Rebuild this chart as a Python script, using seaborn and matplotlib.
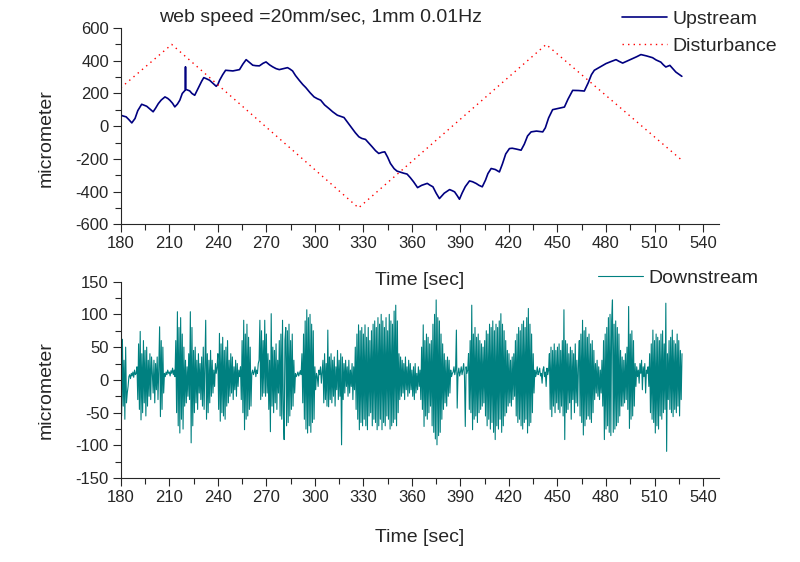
import numpy as np
import pandas as pd
import matplotlib
matplotlib.use('Agg')
import matplotlib.pyplot as plt
from matplotlib.ticker import MultipleLocator
import seaborn as sns

# upstream sensor (time sec, micrometer)
up_t = [180, 181.5, 183.3, 185, 186.8, 188.8, 190.5, 192.9, 194.5, 196, 198, 200, 201.5, 203.2,
        205, 207.3, 209, 210.3, 212, 213.4, 215, 216.5, 218, 219.8, 220, 220.2, 222.6, 224,
        225.7, 227, 228.8, 230, 231.3, 233, 234.9, 237, 239, 240, 241.1, 243, 244.8, 247,
        249.3, 251.5, 253.4, 255.5, 257.5, 259.5, 261.6, 263.5, 265.7, 268, 269.8, 272, 273.9,
        276, 278, 280.5, 283.1, 284.5, 286.2, 288, 290.3, 292.5, 294.4, 297, 299.5, 301.5,
        303.6, 306, 308.7, 311, 313.9, 316, 318, 320.5, 323.1, 325, 327.2, 329, 331.3, 333.5,
        335.4, 337.5, 339.5, 341.5, 343.2, 345, 346.7, 349, 350.8, 352.4, 355, 357, 359, 361,
        363.5, 366, 369.5, 371, 373, 375, 377, 380, 383.3, 385, 386.4, 388, 389.4, 391, 393,
        395.6, 397.5, 399.8, 401.5, 403.5, 405.5, 407, 409, 411.5, 414.1, 416, 418, 420.3,
        422, 424.5, 427.5, 429.5, 431.5, 433.7, 437, 440.9, 442.5, 444.5, 447, 451, 454.3,
        456.5, 459.4, 463, 466.6, 469, 471, 472.8, 476, 480, 483, 486.2, 488, 490.3, 493,
        496.4, 499, 501.6, 505, 508.8, 511, 513.9, 515.5, 517, 519.5, 521.5, 523.2, 525, 526.9]
up_v = [67, 62, 57, 40, 20, 47, 95, 134, 128, 122, 105, 88, 110, 138,
        160, 179, 170, 159, 140, 118, 135, 159, 200, 220, 363, 225, 216, 200,
        189, 215, 250, 275, 297, 290, 281, 262, 244, 255, 281, 315, 342, 340,
        338, 342, 346, 380, 407, 390, 373, 370, 369, 385, 393, 375, 363,
        352, 346, 352, 358, 350, 338, 310, 281, 255, 236, 205, 179, 168,
        159, 130, 108, 88, 67, 60, 53, 20, -14, -40, -65, -75, -81, -105,
        -126, -150, -167, -160, -157, -190, -228, -260, -275, -280, -288, -293, -315, -340,
        -376, -362, -350, -360, -371, -410, -443, -410, -388, -395, -402, -425, -447, -410, -370,
        -335, -340, -351, -362, -371, -330, -290, -259, -265, -280, -230, -170, -137,
        -135, -140, -147, -110, -60, -35, -30, -35, -10, 50, 101, 110, 117,
        165, 219, 218, 215, 265, 315, 342, 360, 383, 395, 407, 397, 386, 398,
        413, 425, 438, 430, 419, 405, 392, 375, 362, 372, 350, 331, 318, 305]

# disturbance triangle corners
dist_t = [180, 211.5, 327, 443, 526.5]
dist_v = [235, 500, -500, 500, -205]

# downstream sensor, one value every 0.5 s starting at 180 s
down_v = [
    45, -55, 62, -40, 30, -60, 50, -35, -20, -10, 5, 8, 2, 10, 6, 12, 4, 15, 8, 10,
    20, -30, 55, -45, 74, -61, 40, -50, 60, -35, 45, -55, 50, -40, 30, -25, 40, -30, 35, 10,
    -20, 30, -35, 25, -15, 35, -30, 20, 81, -56, 60, -45, 50, -20, 10, 5, 12, 8, 15, 10,
    12, 6, 14, 10, 18, 8, 15, 5, 60, -50, 104, -70, 80, -81, 95, -60, 70, -75, 50, -40,
    30, -35, 20, -25, 40, -30, 104, -96, 80, -70, 45, -50, 50, -35, 30, -45, 40, -20, 25, -30,
    35, -40, 50, -45, 20, 91, -60, 40, -50, 30, -35, 45, -25, 30, -20, 15, -10, 25, 10, 20,
    40, -45, 71, -63, 55, -50, 65, -55, 45, -60, 50, -40, 60, -35, 30, -25, 40, -20, 35, -30,
    20, -15, 30, -25, 25, -10, 15, 5, 20, -30, 60, -50, 91, -76, 70, -60, 85, -55, 65, -45,
    50, -40, 10, 15, 8, 12, 20, 5, 15, 10, 25, 30, 91, -30, 75, -25, 60, -20, 91, -25,
    70, -20, 40, -45, 30, -79, 101, -40, 50, -50, 45, -35, 55, -45, 30, -20, 60, -55, 70, -60,
    91, -50, -91, 60, 80, -70, 75, -65, 85, -55, 60, -45, 70, -40, 30, -20, 10, 5, 8, 12,
    6, 10, 14, 8, 40, -35, 70, -60, 90, -75, 107, -81, 95, -70, 100, -80, 85, -65, 75, -60,
    20, -15, 10, 5, -10, 15, 8, 20, -5, 12, 30, -35, 40, -30, 25, -40, 76, -41, 35, -30,
    40, -35, 30, -25, 35, -40, 20, -15, 45, -30, 30, -25, 40, -99, 35, -30, 25, -20, 30, -10,
    20, -25, 30, -20, 15, -10, 25, -30, 20, -15, 50, -45, 70, -60, 84, -76, 75, -65, 80, -70,
    70, -60, 84, -70, 65, -76, 80, -55, 60, -50, 75, -70, 85, -60, 90, -65, 80, -76, 95, -70,
    85, -60, 100, -76, 90, -65, 80, -70, 95, -55, 75, -60, 100, -75, 90, -70, 85, -65, 105, -60,
    114, -70, 90, -50, 40, -30, 35, -25, 30, -20, 25, -30, 35, -15, 20, -25, 30, -20, 25, -15,
    15, -25, 20, -30, 25, -20, 10, -15, 20, -10, 15, -30, 50, -45, 84, -71, 60, -55, 70, -60,
    65, -50, 55, -40, 60, -70, 85, -80, 100, -90, 122, -99, 95, -85, 90, -80, 70, -60, 55, -45,
    40, -35, 30, -40, 35, -25, 30, -20, 15, 5, 10, 12, 20, 8, 15, 76, -43, 10, 18, 6,
    12, 20, 8, 15, 25, 5, -71, 20, 10, 15, 40, -45, 60, -50, 114, -76, 70, -60, 80, -55,
    65, -65, 70, -50, 60, -45, 55, -40, 50, -35, 60, -55, 75, -70, 70, -60, 85, -75, 80, -65,
    90, -80, 75, -91, 85, -70, 80, -75, 90, -60, 101, -80, 85, -70, 75, -55, 60, -50, 45, -40,
    40, -35, 30, -40, 35, -30, 40, -25, 60, -55, 70, -65, 80, -60, 75, -70, 85, -75, 90, -65,
    80, -60, 95, -81, 109, -70, 85, -65, 70, -50, 40, -20, 15, 5, 10, 20, 8, 12, 18, 6,
    10, -5, 15, 20, 5, 12, -10, 18, 8, 15, 40, -45, 50, -56, 45, -40, 55, -50, 45, -35,
    50, -45, 55, -50, 45, -40, 60, -55, 107, -91, 60, -50, 55, -45, 40, -35, 50, -60, 45, -30,
    40, -50, 55, -35, 30, -40, 25, 60, -55, 70, -65, 91, -84, 75, -70, 80, -60, 65, -55, 70,
    -60, 55, -65, 60, -50, 45, -30, 25, -20, 30, -25, 20, -30, 15, -20, 30, -40, 60, -91, 70,
    -75, 80, -70, 95, -80, 100, -85, 90, 122, -80, 85, -75, 90, -70, 80, -65, 70, -55, 45, -40,
    35, -40, 30, -35, 40, -30, 50, -45, 112, -74, 70, -60, 75, -55, 60, -40, 25, -10, 20, 5,
    15, -5, 25, 10, 30, -15, 20, 5, 25, -20, 15, 10, 20, -10, 40, -50, 55, -60, 76, -65,
    60, -81, 70, -70, 65, -75, 60, -55, 70, -60, 75, -50, 55, -45, 117, -109, 40, -30, 60, -45,
    65, -50, 76, -56, 60, -45, 55, -50, 70, -40, 60, -55, 45, -30, 40,
]
down_t = 180 + 0.5 * np.arange(len(down_v))

sns.set_style('ticks')
plt.rcParams['font.family'] = ['Liberation Sans', 'DejaVu Sans']
plt.rcParams['axes.linewidth'] = 0.8
plt.rcParams['axes.unicode_minus'] = False

fig = plt.figure(figsize=(8, 5.62), dpi=100)
ax1 = fig.add_axes([0.151, 0.601, 0.748, 0.349])
ax2 = fig.add_axes([0.151, 0.149, 0.748, 0.35])
ax2.set_facecolor('none')

sns.lineplot(x=up_t, y=up_v, ax=ax1, color='#000080', linewidth=1.2,
             estimator=None, sort=False, label='Upstream')
sns.lineplot(x=dist_t, y=dist_v, ax=ax1, color='red', linewidth=1.0,
             linestyle=(0, (1, 3)), estimator=None, sort=False, label='Disturbance')
sns.lineplot(x=down_t, y=down_v, ax=ax2, color='#008080', linewidth=0.8,
             estimator=None, sort=False, label='Downstream')

for ax, lim, maj, mn, ly in [(ax1, 600, 200, 100, 0.44), (ax2, 150, 50, 25, 0.45)]:
    ax.set_xlim(180, 550)
    ax.set_ylim(-lim, lim)
    ax.xaxis.set_major_locator(MultipleLocator(30))
    ax.xaxis.set_minor_locator(MultipleLocator(15))
    ax.yaxis.set_major_locator(MultipleLocator(maj))
    ax.yaxis.set_minor_locator(MultipleLocator(mn))
    ax.set_xticks(np.arange(180, 541, 30))
    ax.tick_params(which='major', length=5.5, width=0.8, labelsize=12, pad=3, direction='out')
    ax.tick_params(which='minor', length=4, width=0.8, direction='out')
    ax.set_xlabel('Time [sec]', fontsize=14)
    ax.set_ylabel('micrometer', fontsize=14)
    ax.yaxis.set_label_coords(-0.111, ly)
    sns.despine(ax=ax)

ax1.xaxis.set_label_coords(0.5, -0.245)
ax2.xaxis.set_label_coords(0.5, -0.258)

ax1.legend(loc='upper left', bbox_to_anchor=(622 / 800, 1 - 10 / 562),
           bbox_transform=fig.transFigure, frameon=False, fontsize=14,
           handlelength=2.3, handletextpad=0.3, borderpad=0, borderaxespad=0,
           labelspacing=0.5)
ax2.legend(loc='upper left', bbox_to_anchor=(598 / 800, 1 - 269 / 562),
           bbox_transform=fig.transFigure, frameon=False, fontsize=14,
           handlelength=2.3, handletextpad=0.3, borderpad=0, borderaxespad=0)

fig.text(0.401, 0.968, 'web speed =20mm/sec, 1mm 0.01Hz', ha='center', va='center', fontsize=14)

fig.savefig('out.png', dpi=100)
